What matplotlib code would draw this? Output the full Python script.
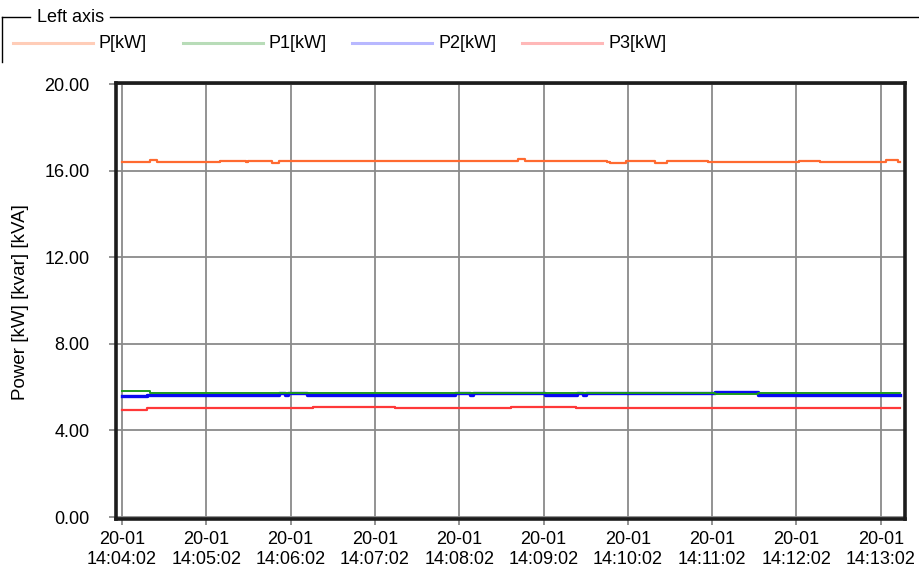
import matplotlib
matplotlib.use("Agg")
import matplotlib.pyplot as plt
from matplotlib.lines import Line2D
import numpy as np

plt.rcParams['font.family'] = ['Liberation Sans', 'DejaVu Sans']

# Time axis: seconds after 20-01 14:04:02
tick_seconds = [0, 60, 120, 180, 240, 300, 360, 420, 480, 540]
tick_labels = ["20-01\n14:04:02", "20-01\n14:05:02", "20-01\n14:06:02", "20-01\n14:07:02",
               "20-01\n14:08:02", "20-01\n14:09:02", "20-01\n14:10:02", "20-01\n14:11:02",
               "20-01\n14:12:02", "20-01\n14:13:02"]
y_ticks = [0, 4, 8, 12, 16, 20]

# Logged power values (change points, held until the next sample)
p_t = [0, 20, 25, 70, 88, 90, 107, 112, 196, 282, 287, 345, 347, 359, 379, 388, 417, 482, 497, 544, 552, 554]
p_v = [16.38, 16.48, 16.38, 16.47, 16.42, 16.47, 16.35, 16.46, 16.45, 16.56, 16.46, 16.41, 16.37, 16.46,
       16.37, 16.46, 16.38, 16.46, 16.38, 16.48, 16.40, 16.40]

p1_t = [0, 20, 422, 453, 554]
p1_v = [5.84, 5.73, 5.70, 5.73, 5.73]

p2_t = [0, 18, 112, 116, 118, 132, 237, 248, 250, 301, 324, 328, 330, 422, 453, 554]
p2_v = [5.60, 5.66, 5.73, 5.66, 5.73, 5.66, 5.73, 5.66, 5.73, 5.66, 5.73, 5.66, 5.73, 5.76, 5.66, 5.66]

p3_t = [0, 18, 136, 194, 277, 323, 554]
p3_v = [4.95, 5.02, 5.10, 5.02, 5.10, 5.02, 5.02]

names = ["P[kW]", "P1[kW]", "P2[kW]", "P3[kW]"]
line_colors = ["#FF6A30", "#1E9A1E", "#0A0AF0", "#FF3838"]
legend_colors = ["#FFCDB8", "#B8DCB8", "#B8B8FF", "#FFB8B8"]

W, H = 919, 573
fig = plt.figure(figsize=(W / 100, H / 100), dpi=100)


def fx(x):
    return x / W


def fy(y):
    return 1 - y / H


ax = fig.add_axes([fx(116), fy(519), fx(905) - fx(116), fy(83) - fy(519)])

series = [(p_t, p_v, 1.6), (p2_t, p2_v, 2.4), (p1_t, p1_v, 1.4), (p3_t, p3_v, 1.6)]
order_colors = [line_colors[0], line_colors[2], line_colors[1], line_colors[3]]
for (t, v, lw), c in zip(series, order_colors):
    ax.plot(t, v, drawstyle="steps-post", color=c, lw=lw, zorder=3)

ax.set_xlim(-4.3, 557.3)
ax.set_ylim(-0.09, 20.05)
ax.set_xticks(tick_seconds)
ax.set_xticklabels(tick_labels, fontsize=13, linespacing=1.2)
ax.set_yticks(y_ticks)
ax.set_yticklabels([f"{v:.2f}" for v in y_ticks], fontsize=13)
ax.grid(True, color="#8a8a8a", lw=1.3, zorder=1)
ax.tick_params(axis="y", direction="out", length=5, width=1.3, color="#8a8a8a", pad=14)
ax.tick_params(axis="x", direction="out", length=4, width=1.3, color="#8a8a8a", pad=5)
for s in ax.spines.values():
    s.set_color("#1c1c1c")
    s.set_linewidth(2.6)

fig.text(fx(21), fy(302), "Power [kW] [kvar] [kVA]", rotation=90, ha="center", va="center", fontsize=13.5)

# Legend group box
fig.add_artist(Line2D([fx(2), fx(30)], [fy(17), fy(17)], color="black", lw=1.0))
fig.add_artist(Line2D([fx(110), fx(919)], [fy(17), fy(17)], color="black", lw=1.0))
fig.add_artist(Line2D([fx(2), fx(2)], [fy(17), fy(62)], color="black", lw=1.0))
fig.text(fx(37), fy(17), "Left axis", ha="left", va="center", fontsize=13)

x0s = [13, 183, 352, 522]
for x0, name, c in zip(x0s, names, legend_colors):
    fig.add_artist(Line2D([fx(x0), fx(x0 + 80)], [fy(43), fy(43)], color=c, lw=2.2))
    fig.text(fx(x0 + 86), fy(43), name, ha="left", va="center", fontsize=13)

fig.savefig("out.png", dpi=100)
